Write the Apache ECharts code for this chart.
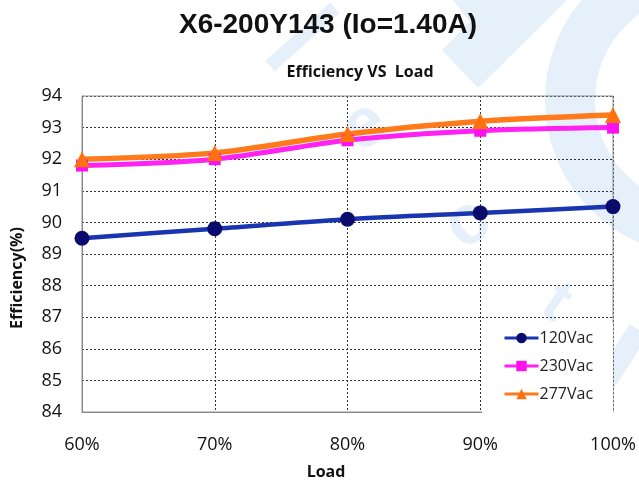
<!DOCTYPE html>
<html><head><meta charset="utf-8">
<script src="https://cdn.jsdelivr.net/npm/echarts@6/dist/echarts.min.js"></script>
<style>html,body{margin:0;padding:0;background:#fff}#c{width:639px;height:482px}</style>
</head><body><div id="c"></div>
<script>
const categories = ['60%','70%','80%','90%','100%'];
const s120 = [89.5, 89.8, 90.1, 90.3, 90.5];
const s230 = [91.8, 92.0, 92.6, 92.9, 93.0];
const s277 = [92.0, 92.2, 92.8, 93.2, 93.4];
const seriesNames = ['120Vac','230Vac','277Vac'];

const chart = echarts.init(document.getElementById('c'));
const lblFont = '"Open Sans", "Noto Sans", sans-serif';
const wm = '#e6f0fa';
function mk(name, data, lineColor, markColor, symbol, size, width){
  return {name, type:'line', data, smooth:0.3, symbol, symbolSize:size,
    lineStyle:{color:lineColor, width}, itemStyle:{color:markColor}, z: 3};
}
chart.setOption({
  animation:false,
  title:[
    {text:'X6-200Y143 (Io=1.40A)', left:323, textAlign:'center', top:6,
     textStyle:{fontFamily:'Liberation Sans, Arial', fontWeight:'bold', fontSize:28, color:'#111'}},
    {text:'Efficiency VS  Load', left:355, top:59, textAlign:'center',
     textStyle:{fontFamily:lblFont, fontWeight:'bold', fontSize:16, color:'#111'}}
  ],
  grid:{left:82, right:26, top:96, bottom:70},
  legend:{orient:'vertical', left:482, top:323, width:110, itemGap:8, itemWidth:34, itemHeight:13,
    padding:[5,20,9,21], backgroundColor:'#ffffff',
    lineStyle:{width:3},
    data:seriesNames, textStyle:{fontFamily:lblFont, fontSize:16, color:'#222', lineHeight:20, padding:[0,0,0,-4]}},
  xAxis:{type:'category', data:categories, boundaryGap:false,
    axisLine:{show:true, lineStyle:{color:'#808080', width:1}},
    axisTick:{show:false},
    axisLabel:{fontFamily:lblFont, fontSize:18, color:'#111', margin:24},
    splitLine:{show:true, lineStyle:{color:'#333', type:[2,2], width:1}}},
  yAxis:{type:'value', min:84, max:94, interval:1,
    axisLine:{show:true, lineStyle:{color:'#808080', width:1}},
    axisTick:{show:false},
    axisLabel:{fontFamily:lblFont, fontSize:18, color:'#111', margin:20},
    splitLine:{show:true, lineStyle:{color:'#333', type:[2,2], width:1}}},
  graphic:[
    {type:'group', z:-10, silent:true, children:[
      {type:'polygon', shape:{points:[[453,0],[567,0],[478,88],[442,50],[470,22]]}, style:{fill:wm}},
      {type:'polyline', shape:{points:[[270,66],[335,8]]}, style:{stroke:wm, lineWidth:14, fill:null}},
      {type:'arc', shape:{cx:700, cy:100, r:130, startAngle:Math.PI*0.62, endAngle:Math.PI*1.42, clockwise:true}, style:{stroke:wm, lineWidth:50, fill:null}},
      {type:'polyline', shape:{points:[[639,330],[592,402]]}, style:{stroke:wm, lineWidth:22, fill:null}},
      {type:'text', x:365, y:127, rotation:0.5, style:{text:'e', font:'bold 70px "Liberation Sans"', fill:wm, align:'center', verticalAlign:'middle'}},
      {type:'text', x:468, y:224, rotation:0.6, style:{text:'c', font:'bold 70px "Liberation Sans"', fill:wm, align:'center', verticalAlign:'middle'}},
      {type:'text', x:556, y:303, rotation:-0.6, style:{text:'t', font:'bold 62px "Liberation Sans"', fill:wm, align:'center', verticalAlign:'middle'}}
    ]},
    {type:'rect', shape:{x:82, y:96, width:531, height:316}, style:{fill:'none', stroke:'#909090', lineWidth:1}, z:1, silent:true},
    {type:'text', x:17, y:278, rotation:Math.PI/2, z:5,
     style:{text:'Efficiency(%)', font:'bold 16px "Open Sans"', fill:'#111', align:'center', verticalAlign:'middle'}},
    {type:'text', x:326, y:472, z:5,
     style:{text:'Load', font:'bold 16px "Open Sans"', fill:'#111', align:'center', verticalAlign:'middle'}}
  ],
  series:[
    mk('120Vac', s120, '#1a35b0', '#0b0b6e', 'circle', 15, 4.5),
    mk('230Vac', s230, '#ff22f2', '#ff10ee', 'rect', 12, 5),
    mk('277Vac', s277, '#ff7a1a', '#ff7010', 'triangle', 16, 5.5)
  ]
});
</script></body></html>
